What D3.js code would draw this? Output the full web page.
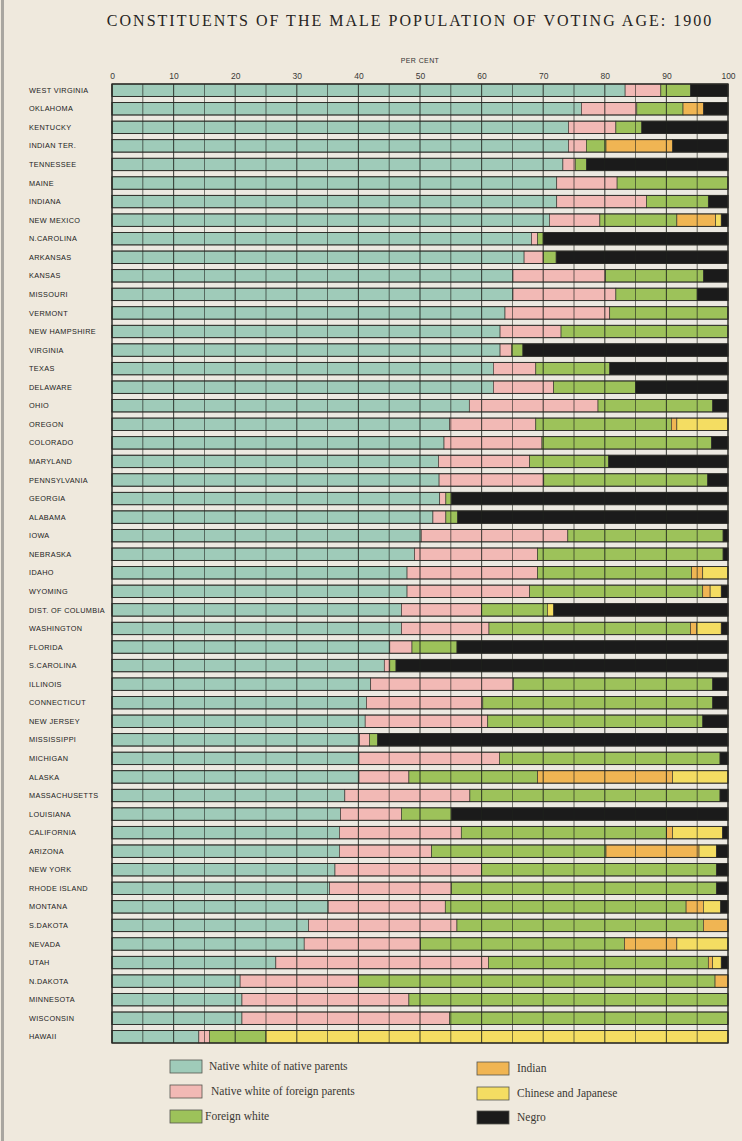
<!DOCTYPE html>
<html>
<head>
<meta charset="utf-8">
<script src="https://cdn.jsdelivr.net/npm/d3@7"></script>
<style>
  body { margin: 0; background: #efe9dd; }
  svg { display: block; }
</style>
</head>
<body>
<svg></svg>
<script>
/*
*  DATA  (per cent of males of voting age, 1900)
*/

let states = ['WEST VIRGINIA','OKLAHOMA','KENTUCKY','INDIAN TER.','TENNESSEE','MAINE','INDIANA','NEW MEXICO',
  'N.CAROLINA','ARKANSAS','KANSAS','MISSOURI','VERMONT','NEW HAMPSHIRE','VIRGINIA','TEXAS','DELAWARE','OHIO',
  'OREGON','COLORADO','MARYLAND','PENNSYLVANIA','GEORGIA','ALABAMA','IOWA','NEBRASKA','IDAHO','WYOMING',
  'DIST. OF COLUMBIA','WASHINGTON','FLORIDA','S.CAROLINA','ILLINOIS','CONNECTICUT','NEW JERSEY','MISSISSIPPI',
  'MICHIGAN','ALASKA','MASSACHUSETTS','LOUISIANA','CALIFORNIA','ARIZONA','NEW YORK','RHODE ISLAND','MONTANA',
  'S.DAKOTA','NEVADA','UTAH','N.DAKOTA','MINNESOTA','WISCONSIN','HAWAII']

let nativeNative = [83.3,76.2,74.1,74.1,73.2,72.2,72.2,71.0,68.1,66.9,65.1,65.1,63.8,63.0,63.0,61.9,61.9,58.0,
  54.8,53.9,53.0,53.1,53.2,52.1,50.2,49.1,47.9,47.9,47.0,47.0,45.1,44.2,42.0,41.3,41.1,40.2,40.1,40.1,37.8,37.1,
  36.9,36.9,36.2,35.3,35.1,31.9,31.2,26.6,20.8,21.1,21.1,14.1]
let nativeForeign = [5.8,9.0,7.7,2.9,2.0,9.8,14.6,8.2,1.0,3.1,15.0,16.7,17.0,9.9,1.9,6.9,9.8,20.9,
  14.0,15.9,14.8,17.0,1.0,2.1,23.8,20.0,21.2,19.9,13.0,14.2,3.6,0.9,23.2,18.9,19.9,1.6,22.8,8.1,20.3,9.9,
  19.8,15.0,23.8,19.8,19.0,24.1,18.9,34.5,19.2,27.1,33.7,1.7]
let foreignWhite = [4.8,7.5,4.2,3.2,1.8,18.0,10.0,12.5,0.9,2.1,15.9,13.2,19.2,27.1,1.8,12.0,13.3,18.6,
  22.0,27.5,12.8,26.6,0.9,1.9,25.2,30.1,25.0,28.1,10.7,32.7,7.3,1.0,32.3,37.3,34.9,1.3,35.8,20.9,40.6,8.1,
  33.3,28.3,38.1,43.0,39.1,40.0,33.1,35.7,57.9,51.8,45.2,9.2]
let indian = [0,3.3,0,10.8,0,0,0,6.3,0,0,0,0,0,0,0,0,0,0,
  0.9,0,0,0,0,0,0,0,1.8,1.2,0,1.0,0,0,0,0,0,0,0,21.9,0,0,
  1.0,15.1,0,0,2.8,4.0,8.5,0.7,2.1,0,0,0]
let chineseJapanese = [0,0,0,0,0,0,0,0.9,0,0,0,0,0,0,0,0,0,0,
  8.3,0,0,0,0,0,0,0,4.1,1.8,1.0,4.0,0,0,0,0,0,0,0,9.0,0,0,
  8.1,2.8,0,0,2.8,0,8.3,1.4,0,0,0,75.0]
let negro = [6.1,4.0,14.0,9.0,23.0,0,3.2,1.1,30.0,27.9,4.0,5.0,0,0,33.3,19.2,15.0,2.5,
  0,2.7,19.4,3.3,44.9,43.9,0.8,0.8,0,1.1,28.3,1.1,44.0,53.9,2.5,2.5,4.1,56.9,1.3,0,1.3,44.9,
  0.9,1.9,1.9,1.9,1.2,0,0,1.1,0,0,0,0]

let keys = ['nn','nf','fw','ind','cj','neg']
let legendLabels = ['Native white of native parents','Native white of foreign parents','Foreign white',
  'Indian','Chinese and Japanese','Negro']
let colors = ['#9fcbb9','#f2b9b5','#9dc25a','#f0b553','#f4dd62','#1b1b1b']
let tickValues = [0,10,20,30,40,50,60,70,80,90,100]

/*
*  RUN
*/

let width = 742,
    height = 1141

let svg = d3.select('svg').attr('width', width).attr('height', height)

let rows = states.map((s, i) => ({
  state: s, nn: nativeNative[i], nf: nativeForeign[i], fw: foreignWhite[i],
  ind: indian[i], cj: chineseJapanese[i], neg: negro[i]
}))

let x = d3.scaleLinear().domain([0, 100]).range([112, 728])
let y = d3.scaleBand().domain(states).range([84, 1043]).paddingInner(0.33).paddingOuter(0)
let color = d3.scaleOrdinal().domain(keys).range(colors)

// expand so each bar ends exactly on 100
let series = d3.stack().keys(keys).offset(d3.stackOffsetExpand)(rows)

drawFrame()
drawBars()
drawAxis()
drawLabels()
drawLegend()

/*
*  HELPERS
*/

function drawFrame(){
  svg.append('rect').attr('width', width).attr('height', height).attr('fill', '#efe9dd')
  svg.append('line')
    .attr('x1', 2.5).attr('x2', 2.5).attr('y1', 0).attr('y2', height)
    .attr('stroke', '#a9a6a0').attr('stroke-width', 3)

  svg.append('text')
    .attr('x', 410).attr('y', 26)
    .attr('text-anchor', 'middle')
    .attr('font-family', '"Liberation Serif", "DejaVu Serif", serif')
    .attr('font-size', 16)
    .attr('letter-spacing', 2)
    .attr('fill', '#262422')
    .text('CONSTITUENTS OF THE MALE POPULATION OF VOTING AGE: 1900')

  svg.append('text')
    .attr('x', 420).attr('y', 63)
    .attr('text-anchor', 'middle')
    .attr('font-family', '"Liberation Sans", Arial, sans-serif')
    .attr('font-size', 7)
    .attr('letter-spacing', 0.4)
    .attr('fill', '#333')
    .text('PER CENT')

  // light strips between the rows
  svg.append('rect')
    .attr('x', x(0)).attr('y', y.range()[0])
    .attr('width', x(100) - x(0)).attr('height', y.range()[1] - y.range()[0])
    .attr('fill', '#ece9e1')
}

function drawBars(){
  let xf = d3.scaleLinear().domain([0, 1]).range(x.range())
  let g = svg.append('g').attr('class', 'bars')
  g.selectAll('g')
    .data(series)
    .enter()
    .append('g')
    .attr('fill', d => color(d.key))
    .selectAll('rect')
    .data(d => d.filter(s => s[1] - s[0] > 0))
    .enter()
    .append('rect')
    .attr('x', d => xf(d[0]))
    .attr('y', d => y(d.data.state))
    .attr('width', d => xf(d[1]) - xf(d[0]))
    .attr('height', y.bandwidth())
    .attr('stroke', '#2f2f2a')
    .attr('stroke-width', 0.6)

  // grid every 5 per cent, through bars and strips
  svg.append('g').attr('class', 'grid')
    .selectAll('line')
    .data(d3.range(0, 101, 5))
    .enter()
    .append('line')
    .attr('x1', d => x(d)).attr('x2', d => x(d))
    .attr('y1', y.range()[0]).attr('y2', y.range()[1])
    .attr('stroke', '#1f221d')
    .attr('stroke-width', d => d % 10 === 0 ? 1.1 : 0.8)
    .attr('opacity', 0.8)

  // row outlines
  svg.append('g').attr('class', 'outlines')
    .selectAll('rect')
    .data(states)
    .enter()
    .append('rect')
    .attr('x', x(0)).attr('y', d => y(d))
    .attr('width', x(100) - x(0)).attr('height', y.bandwidth())
    .attr('fill', 'none')
    .attr('stroke', '#2a2a26')
    .attr('stroke-width', 0.9)

  svg.append('rect')
    .attr('x', x(0)).attr('y', y.range()[0])
    .attr('width', x(100) - x(0)).attr('height', y.range()[1] - y.range()[0])
    .attr('fill', 'none')
    .attr('stroke', '#2a2a26')
    .attr('stroke-width', 1)
}

function drawAxis(){
  let ax = svg.append('g')
    .attr('transform', 'translate(0,79)')
    .call(d3.axisTop(x).tickValues(tickValues).tickSize(0).tickPadding(0))
  ax.select('.domain').remove()
  ax.selectAll('text')
    .attr('font-family', '"Liberation Sans", Arial, sans-serif')
    .attr('font-size', 8.5)
    .attr('fill', '#3a3a38')
}

function drawLabels(){
  svg.append('g').attr('class', 'labels')
    .selectAll('text')
    .data(states)
    .enter()
    .append('text')
    .attr('x', 29)
    .attr('y', d => y(d) + y.bandwidth() / 2 + 2.6)
    .attr('font-family', '"Liberation Sans", Arial, sans-serif')
    .attr('font-size', 7.3)
    .attr('letter-spacing', 0.35)
    .attr('fill', '#222')
    .text(d => d)
}

function drawLegend(){
  let pos = [[170, 1060], [170, 1085], [170, 1110], [477, 1062], [477, 1087], [477, 1111]]
  let textX = [209, 211, 205, 517, 517, 517]
  let l = svg.append('g').attr('class', 'legend')
  let item = l.selectAll('g')
    .data(keys)
    .enter()
    .append('g')
    .attr('transform', (d, i) => `translate(${pos[i][0]},${pos[i][1]})`)
  item.append('rect')
    .attr('width', 32).attr('height', 13)
    .attr('fill', d => color(d))
    .attr('stroke', '#55554f').attr('stroke-width', 0.8)
  item.append('text')
    .attr('x', (d, i) => textX[i] - pos[i][0])
    .attr('y', 10)
    .attr('font-family', '"Liberation Serif", "DejaVu Serif", serif')
    .attr('font-size', 11.5)
    .attr('fill', '#3a3833')
    .text((d, i) => legendLabels[i])
}
</script>
</body>
</html>
